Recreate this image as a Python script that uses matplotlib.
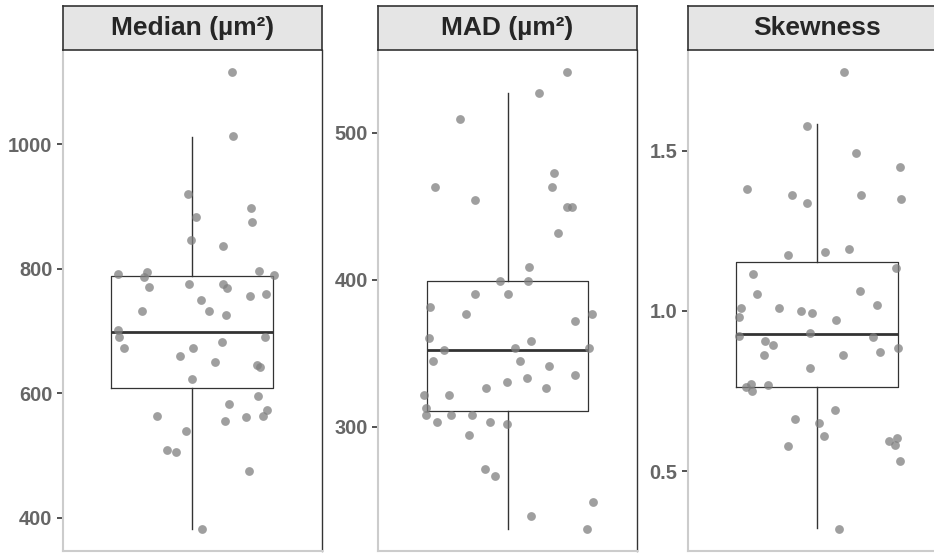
import matplotlib.pyplot as plt
from matplotlib.patches import Rectangle

plt.rcParams['font.family'] = ['Liberation Sans', 'DejaVu Sans']

titles = ['Median (µm²)', 'MAD (µm²)', 'Skewness']

# jittered points (x = jittered position, y = value)
median_x = [1.185, 1.187, 0.98, 1.017, 0.995, 1.141, 1.273, 1.276, 1.308, 1.378,
            0.656, 0.789, 0.777, 0.799, 0.986, 1.143, 1.163, 1.267, 1.341, 1.04,
            0.766, 1.078, 1.155, 0.653, 0.659, 1.338, 0.685, 1.003, 1.136, 0.941,
            1.104, 1.302, 1.316, 1.001, 1.307, 1.169, 1.347, 1.329, 0.837, 1.248,
            1.15, 0.973, 0.882, 0.924, 1.262, 1.047]
median_y = [1115, 1013, 920, 883, 846, 836, 898, 875, 797, 790,
            791, 794, 787, 771, 775, 775, 769, 757, 759, 750,
            732, 732, 726, 701, 691, 691, 673, 673, 682, 660,
            651, 646, 642, 623, 595, 583, 573, 564, 564, 562,
            555, 539, 509, 506, 475, 382]

mad_x = [1.274, 1.146, 0.781, 0.662, 0.848, 1.215, 1.205, 1.274, 1.301, 1.236,
         1.099, 0.963, 1.096, 0.851, 1.0, 0.642, 0.805, 1.391, 1.312, 0.634,
         1.11, 1.036, 1.378, 0.704, 0.653, 1.059, 1.192, 1.312, 1.088, 0.999,
         0.899, 1.177, 0.612, 0.727, 0.622, 0.623, 0.738, 0.833, 0.671, 0.918,
         0.997, 0.822, 0.894, 0.94, 1.397, 1.108, 1.367]
mad_y = [541.1, 527.2, 509.1, 463.3, 454.2, 472.4, 463.1, 449.5, 449.5, 431.6,
         408.4, 399.3, 399.3, 390.3, 390.3, 381.2, 376.5, 376.5, 371.9, 360.5,
         358.3, 353.5, 353.5, 352.2, 344.7, 344.5, 341.3, 335.2, 332.9, 330.6,
         326.1, 326.1, 321.6, 321.6, 312.5, 307.8, 307.8, 307.8, 303.2, 303.2,
         301.8, 294.1, 271.2, 266.7, 248.6, 239.3, 230.2]

skew_x = [1.128, 0.956, 1.184, 1.388, 0.677, 0.885, 0.953, 1.205, 1.393, 0.867,
          1.04, 1.15, 1.37, 0.705, 0.722, 1.199, 1.28, 0.647, 0.64, 0.824,
          0.928, 0.978, 1.091, 0.97, 0.641, 1.26, 0.762, 0.798, 1.376, 1.295,
          0.757, 1.122, 0.967, 0.695, 0.672, 0.7, 0.776, 1.087, 0.9, 1.012,
          1.035, 0.866, 1.336, 1.373, 1.365, 1.388, 1.101]
skew_y = [1.745, 1.578, 1.493, 1.449, 1.380, 1.360, 1.335, 1.363, 1.350, 1.174,
          1.183, 1.194, 1.134, 1.115, 1.052, 1.063, 1.019, 1.008, 0.982, 1.008,
          0.998, 0.993, 0.971, 0.931, 0.920, 0.918, 0.906, 0.893, 0.885, 0.872,
          0.861, 0.863, 0.822, 0.773, 0.761, 0.751, 0.768, 0.689, 0.664, 0.650,
          0.610, 0.579, 0.594, 0.603, 0.581, 0.532, 0.319]

# box statistics: whisker low, Q1, median, Q3, whisker high
box_median = [382, 609, 698.5, 788, 1012]
box_mad = [230.4, 310.4, 352.3, 399.3, 527.2]
box_skew = [0.321, 0.763, 0.928, 1.151, 1.582]

yticks = [[400, 600, 800, 1000], [300, 400, 500], [0.5, 1.0, 1.5]]
ytick_labels = [['400', '600', '800', '1000'], ['300', '400', '500'], ['0.5', '1.0', '1.5']]
ylims = [(347, 1151), (215.4, 556.3), (0.2505, 1.814)]

W, H = 934, 554
fig = plt.figure(figsize=(W / 100, H / 100), dpi=100)

lefts = [63, 378.3, 687.5]
pw = 258.5
panel_bottom, panel_top = 3, 504
strip_top = 548

panels = [(median_x, median_y, box_median),
          (mad_x, mad_y, box_mad),
          (skew_x, skew_y, box_skew)]

for i, (xs, ys, bs) in enumerate(panels):
    ax = fig.add_axes([lefts[i] / W, panel_bottom / H, pw / W, (panel_top - panel_bottom) / H])
    stats = [{'whislo': bs[0], 'q1': bs[1], 'med': bs[2], 'q3': bs[3], 'whishi': bs[4], 'fliers': []}]
    ax.bxp(stats, positions=[1], widths=0.75, showcaps=False, showfliers=False,
           boxprops=dict(color='#333333', linewidth=0.9),
           whiskerprops=dict(color='#333333', linewidth=1.0),
           medianprops=dict(color='#333333', linewidth=2.0))
    ax.scatter(xs, ys, s=40, color='#7f7f7f', alpha=0.75, linewidths=0, zorder=3)
    ax.set_xlim(0.4, 1.6)
    ax.set_ylim(*ylims[i])
    ax.set_xticks([])
    ax.set_yticks(yticks[i])
    ax.set_yticklabels(ytick_labels[i])
    ax.tick_params(axis='y', length=4, width=1.2, color='#333333', pad=3.5,
                   labelsize=14.4, labelcolor='#666666')
    for lab in ax.get_yticklabels():
        lab.set_fontweight('bold')
    ax.spines['top'].set_visible(False)
    ax.spines['left'].set_color('#cccccc')
    ax.spines['left'].set_linewidth(1.5)
    ax.spines['bottom'].set_color('#cccccc')
    ax.spines['bottom'].set_linewidth(1.5)
    ax.spines['right'].set_color('#333333')
    ax.spines['right'].set_linewidth(1.0)

    # facet strip
    sax = fig.add_axes([lefts[i] / W, panel_top / H, pw / W, (strip_top - panel_top) / H])
    sax.set_xticks([])
    sax.set_yticks([])
    sax.set_facecolor('#e5e5e5')
    for sp in sax.spines.values():
        sp.set_color('#333333')
        sp.set_linewidth(1.2)
    sax.text(0.5, 0.5, titles[i], ha='center', va='center', fontsize=19,
             fontweight='bold', color='#262626', transform=sax.transAxes)

fig.savefig('out.png', dpi=100)
